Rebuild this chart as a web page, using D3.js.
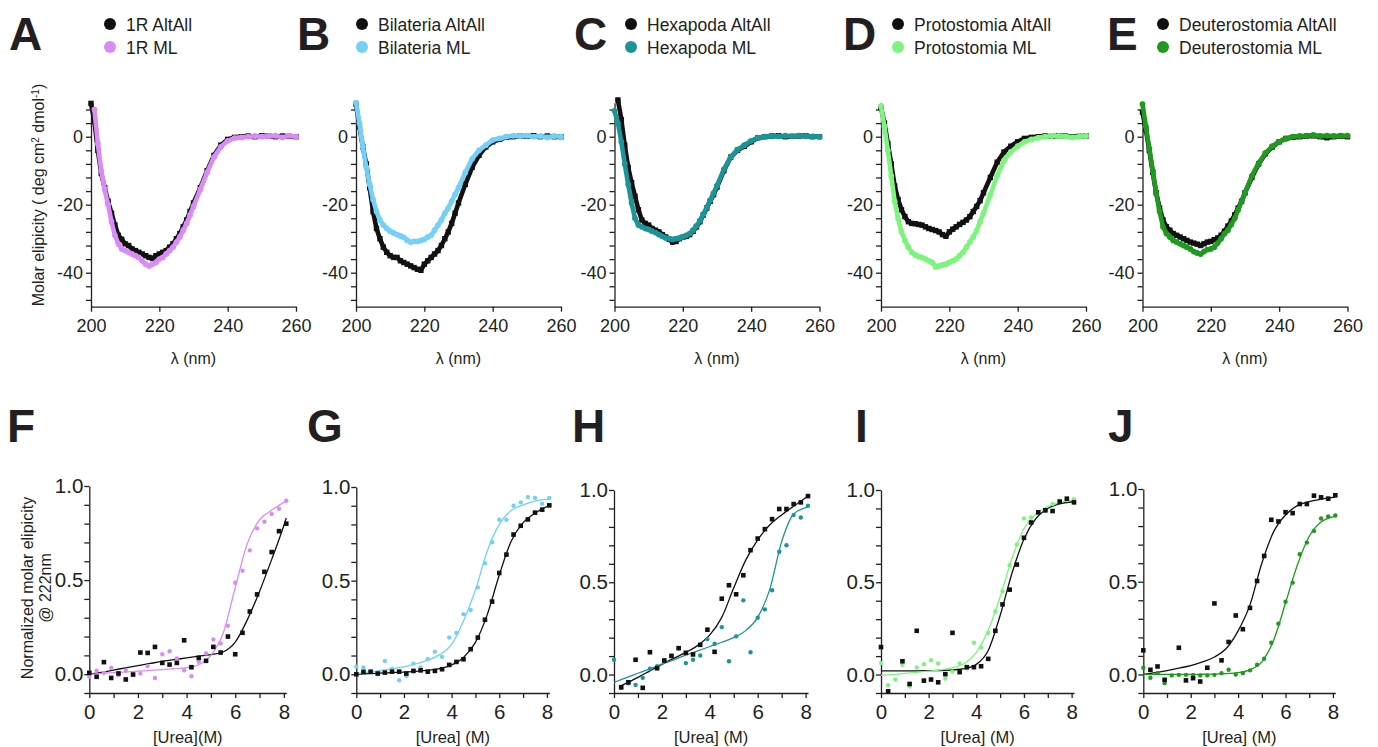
<!DOCTYPE html>
<html>
<head>
<meta charset="utf-8">
<script src="https://cdn.jsdelivr.net/npm/d3@7"></script>
<style>
  body { margin: 0; background: #fff; }
  svg { font-family: "Liberation Sans", Arial, Helvetica, sans-serif; }
</style>
</head>
<body>
<svg id="fig" width="1378" height="747"></svg>
<script>
// ---- CD spectra (top row), molar elipicity vs wavelength ----
const wavelength = [200,201,202,203,204,205,206,207,208,209,210,211,212,213,214,215,216,217,218,219,220,
  221,222,223,224,225,226,227,228,229,230,232,234,236,238,240,242,244,246,248,250,252,254,256,258,260]

const cdAltAll1R = [9.8,4.5,-4,-10.8,-15,-19,-22.5,-26,-29,-30.2,-31.5,-32,-33,-33.5,-34,-34.5,-35,-35.5,-35.8,-35,-34.5,
  -34,-33.5,-32.5,-31.5,-30,-28.5,-26.5,-24.5,-22,-19.5,-15,-10,-5.5,-2.5,-0.8,-0.2,0,0.2,0,0.3,0.2,0,0.2,0.1,0]
const cdML1R = [null,8,-2,-10,-15.5,-20,-25,-29,-31.5,-33,-33.5,-34,-34.5,-35,-35.5,-36.5,-37.5,-38,-37.5,-37,-36,
  -35.5,-34.5,-33.5,-32.5,-31,-29.5,-27.5,-25.5,-23,-20.5,-15.5,-10.5,-6,-3,-1.2,-0.4,-0.2,0,0.2,0,0.2,0.3,-0.2,0.3,0]

const cdAltAllBil = [9.6,3,-3,-8,-15,-22,-27,-30,-32.5,-34,-35,-35.5,-35.5,-36.5,-37,-37.5,-38,-38.5,-39,-39.3,-37.5,
  -36.5,-35.5,-34.5,-33.5,-32,-30,-28,-25.5,-22.5,-19.5,-14,-9,-5.5,-3,-1.5,-0.8,-0.2,0,0.2,0.1,0.3,0,0.2,0,0]
const cdMLBil = [10,4,-3,-9,-14,-18.5,-22,-24.5,-26,-27,-27.8,-28.3,-28.8,-29.2,-29.6,-30.5,-31,-30.8,-30.8,-30.5,-30.2,
  -29.5,-29,-27.5,-26,-24.5,-22.5,-21,-19,-17,-15,-10.5,-6.5,-4,-2.5,-1,-0.5,0,0.3,0.2,0.3,0,0.2,-0.2,0.2,0]

const cdAltAllHex = [null,10.8,5,-2.5,-9,-13.5,-17.5,-21.5,-24.5,-25.5,-26,-27,-27.5,-28,-28.8,-29.5,-30.2,-31,-30.8,-30,-29.6,
  -29.3,-28.8,-27.8,-26.5,-25,-23,-21,-19,-17,-14.8,-10,-6,-4,-2.8,-1.5,-0.3,0,0.2,0.3,0,0.1,0.2,0.3,0,0]
const cdMLHex = [7.6,4,-1.5,-8,-14,-19.5,-24,-26,-26.5,-27,-27.3,-27.8,-28.2,-28.8,-29.3,-29.8,-30,-30.2,-30,-29.8,-29.5,
  -29,-28.5,-27.5,-26.2,-24.7,-22.8,-20.8,-18.7,-16.6,-14.4,-9.6,-6,-3.8,-2.5,-1.2,-0.3,0,0.2,0.1,0.3,0.1,0.3,0.2,0.1,0]

const cdAltAllPro = [8.6,4,-2,-8,-14.5,-18.5,-21.5,-23.5,-25,-25.5,-25.6,-25.8,-26,-26.5,-27,-27.3,-27.6,-28,-28.8,-29.3,-28,
  -27.2,-26.5,-25.8,-25.2,-24.5,-23.5,-22,-20.5,-18.8,-16.5,-12,-7.5,-4.5,-2.8,-1.5,-0.5,-0.2,0,0.2,0.1,0.3,0.2,0,0.1,0.2]
const cdMLPro = [9,3,-4,-11.5,-19,-24,-28,-30.5,-32.5,-34,-34.8,-35.2,-35.5,-36,-36.5,-37,-38.3,-38,-37.7,-37.5,-37,
  -36.5,-36,-35,-34,-32.5,-31,-29.5,-27.6,-25,-22.5,-17,-11.5,-7,-4.5,-2.8,-1.5,-0.8,-0.3,0,0.2,0.2,0.1,-0.2,0,0.2]

const cdAltAllDeu = [7.2,2,-4,-10.5,-16.5,-21,-24.5,-26.5,-27.5,-28.5,-29,-29.5,-30,-30.5,-31,-31.3,-31.6,-32,-31.5,-31,-30.8,
  -30.3,-29.8,-29,-27.8,-26.3,-24.8,-23,-21,-19,-16.5,-12,-8,-5,-3,-1.5,-0.5,-0.2,0,0.2,0.3,0,-0.3,0,0.2,0]
const cdMLDeu = [9.6,3,-3.5,-10,-16.5,-22,-26.5,-28.5,-29.5,-30.5,-31,-31.5,-32,-32.5,-33,-33.8,-34.2,-34.5,-33.8,-33.2,-33,
  -32.5,-31.3,-30,-28.5,-27.5,-25.8,-24,-21.5,-19,-16.5,-11.5,-7.8,-4.8,-2.8,-1.5,-0.6,0,0.2,0.3,0.5,0.2,0.3,0.2,0.3,0.3]

// ---- urea denaturation (bottom row), normalized elipicity at 222 nm ----
const urea = [0,0.3,0.6,0.9,1.2,1.5,1.8,2.1,2.4,2.7,3.0,3.3,3.6,3.9,4.2,4.5,4.8,5.1,5.4,5.7,6.0,6.3,6.6,6.9,7.2,7.5,7.8,8.1]
const fitUrea = [0,0.3,0.5,1,1.5,2,2.5,3,3.5,4,4.5,5,5.5,6,6.5,7,7.5,8,8.1]

const ureaAltAll1R = [0.007,-0.014,0.064,-0.02,0.004,-0.028,-0.002,0.115,0.113,0.145,0.06,0.051,0.06,0.18,0.037,0.087,0.071,0.145,0.115,0.2,0.106,0.22,0.333,0.424,0.544,0.649,0.76,0.8]
const ureaML1R = [-0.014,0.018,0.007,0.034,-0.005,0.018,0,0.004,0.043,-0.02,0.106,0.122,0.083,0.021,-0.011,0.066,0.11,0.184,0.163,0.257,0.486,0.55,0.658,0.775,0.81,0.851,0.879,0.922]
const fitAltAll1R = [0,0.006,0.01,0.022,0.034,0.046,0.057,0.068,0.077,0.087,0.096,0.104,0.118,0.17,0.29,0.44,0.61,0.79,0.83]
const fitML1R = [0,0.002,0.004,0.008,0.012,0.016,0.02,0.024,0.029,0.035,0.05,0.1,0.216,0.46,0.695,0.82,0.872,0.913,0.92]

const ureaAltAllBil = [0,0.013,0.013,0.004,0.009,0.014,0.014,0.004,0.018,0.021,0.014,0.018,0.027,0.05,0.066,0.08,0.134,0.196,0.291,0.388,0.541,0.639,0.746,0.793,0.827,0.863,0.879,0.902]
const ureaMLBil = [0.041,0.036,0.018,0,0.071,0.03,-0.032,-0.009,0.057,0.036,0.08,0.121,0.093,0.196,0.221,0.321,0.343,0.464,0.593,0.705,0.825,0.825,0.9,0.918,0.946,0.941,0.911,0.941]
const fitAltAllBil = [0,0.002,0.003,0.006,0.009,0.012,0.016,0.021,0.03,0.05,0.09,0.17,0.32,0.53,0.71,0.81,0.86,0.895,0.9]
const fitMLBil = [0.004,0.008,0.011,0.02,0.03,0.04,0.055,0.075,0.105,0.16,0.285,0.45,0.66,0.8,0.875,0.905,0.925,0.935,0.937]

const ureaAltAllHex = [null,-0.069,-0.042,0.08,-0.072,0.121,0.034,0.076,0.101,0.143,0.118,0.109,0.161,0.243,0.123,0.411,0.484,0.435,0.538,0.674,0.737,0.788,0.842,0.897,0.897,0.924,0.933,0.967]
const ureaMLHex = [0.08,-0.072,-0.047,-0.056,-0.018,0.031,0.045,0.076,0.101,0.143,0.062,0.08,0.103,0.192,0.167,0.257,0.072,0.207,0.402,0.121,0.308,0.353,0.457,0.665,0.701,0.864,0.851,0.915]
const fitAltAllHex = [null,-0.06,-0.048,-0.015,0.02,0.055,0.088,0.12,0.158,0.215,0.31,0.47,0.62,0.73,0.81,0.865,0.912,0.958,0.967]
const fitMLHex = [-0.042,-0.027,-0.018,0.007,0.031,0.056,0.08,0.105,0.128,0.152,0.175,0.2,0.238,0.31,0.46,0.72,0.87,0.905,0.91]

const ureaAltAllPro = [0.149,-0.091,null,0.072,-0.051,0.237,-0.033,-0.027,-0.042,0.002,0.226,0.013,0.04,0.04,0.045,0.085,0.237,0.38,0.46,0.596,0.741,0.824,0.879,0.89,0.886,0.937,0.953,0.933]
const ureaMLPro = [0.062,-0.058,-0.027,0.053,-0.065,0.038,0.056,0.078,0.06,-0.022,0.016,0.06,0.033,0.172,0.147,0.226,0.342,0.451,0.592,0.705,0.846,0.851,0.879,0.886,0.924,0.942,0.946,0.95]
const fitAltAllPro = [0.02,0.02,0.02,0.02,0.02,0.021,0.022,0.025,0.032,0.055,0.13,0.32,0.55,0.735,0.845,0.9,0.925,0.935,0.936]
const fitMLPro = [-0.005,-0.002,0,0.006,0.012,0.018,0.025,0.037,0.06,0.12,0.24,0.42,0.63,0.79,0.87,0.91,0.932,0.944,0.945]

const ureaAltAllDeu = [0.13,0.025,0.043,-0.029,null,0.144,-0.032,-0.02,-0.038,0.036,0.383,0.076,0.175,0.318,0.244,0.359,0.504,0.639,0.834,0.825,0.875,0.87,0.919,0.919,0.964,0.955,0.948,0.966]
const ureaMLDeu = [0.036,-0.018,0.007,-0.047,-0.005,-0.002,-0.002,-0.002,-0.005,-0.005,-0.002,0.007,0.025,0,0.007,0.022,0.052,0.085,0.171,0.274,0.392,0.495,0.648,0.711,0.774,0.841,0.852,0.857]
const fitAltAllDeu = [0,0.006,0.01,0.021,0.034,0.048,0.068,0.094,0.14,0.235,0.375,0.6,0.77,0.86,0.91,0.932,0.945,0.955,0.957]
const fitMLDeu = [0,0,0,0,0,0,0.001,0.002,0.005,0.01,0.025,0.068,0.185,0.385,0.59,0.745,0.822,0.85,0.853]

const groupNames = ['1R', 'Bilateria', 'Hexapoda', 'Protostomia', 'Deuterostomia']
const groupColors = ['#d98cf5', '#73d0f7', '#1b9598', '#7df47d', '#1f9a1f']

// ---- layout ----
const ink = '#231f20'
const topX0 = [91, 356, 614.5, 881, 1142.5]
const topW = 205
const topTopY = 102.7, topBotY = 306.7
const botX0 = [89.3, 356.3, 614, 881, 1143.3]
const botW = [197, 193, 194, 193, 192]
const botTopY = [486, 487, 490, 490, 489]
const botBotY = 693
const topLetters = ['A', 'B', 'C', 'D', 'E'], topLetterX = [9, 297, 574, 843, 1107]
const botLetters = ['F', 'G', 'H', 'I', 'J'], botLetterX = [7, 307, 572, 855, 1108]
const legendDotX = [110, 362, 631, 898, 1163]

const cdPanels = [
  { alt: cdAltAll1R, ml: cdML1R }, { alt: cdAltAllBil, ml: cdMLBil }, { alt: cdAltAllHex, ml: cdMLHex },
  { alt: cdAltAllPro, ml: cdMLPro }, { alt: cdAltAllDeu, ml: cdMLDeu }
]
const ureaPanels = [
  { alt: ureaAltAll1R, ml: ureaML1R, fitAlt: fitAltAll1R, fitMl: fitML1R, xTitle: '[Urea](M)' },
  { alt: ureaAltAllBil, ml: ureaMLBil, fitAlt: fitAltAllBil, fitMl: fitMLBil, xTitle: '[Urea] (M)' },
  { alt: ureaAltAllHex, ml: ureaMLHex, fitAlt: fitAltAllHex, fitMl: fitMLHex, xTitle: '[Urea] (M)' },
  { alt: ureaAltAllPro, ml: ureaMLPro, fitAlt: fitAltAllPro, fitMl: fitMLPro, xTitle: '[Urea] (M)' },
  { alt: ureaAltAllDeu, ml: ureaMLDeu, fitAlt: fitAltAllDeu, fitMl: fitMLDeu, xTitle: '[Urea] (M)' }
]

const svg = d3.select('#fig')

const styleAxis = (g, fontSize) => {
  g.select('.domain').attr('stroke', ink).attr('stroke-width', 1.3)
  g.selectAll('.tick line').attr('stroke', ink).attr('stroke-width', 1.3)
  g.selectAll('.tick text').attr('fill', ink).style('font-size', fontSize + 'px').attr('font-family', null)
}

const letter = (x, y, t) => svg.append('text')
  .attr('x', x).attr('y', y).text(t)
  .style('font-size', '46px').style('font-weight', 'bold').attr('fill', ink)

// ---- top row ----
cdPanels.forEach((p, i) => {
  const x = d3.scaleLinear().domain([200, 260]).range([topX0[i], topX0[i] + topW])
  const y = d3.scaleLinear().domain([-50, 10]).range([topBotY, topTopY])
  const g = svg.append('g')

  letter(topLetterX[i], 50, topLetters[i])

  // legend
  const lg = svg.append('g')
  ;[[`${groupNames[i]} AltAll`, '#111', 24, 30.5], [`${groupNames[i]} ML`, groupColors[i], 47, 53.5]].forEach(r => {
    lg.append('circle').attr('cx', legendDotX[i]).attr('cy', r[2]).attr('r', 6).attr('fill', r[1])
    lg.append('text').attr('x', legendDotX[i] + 16).attr('y', r[3]).text(r[0])
      .style('font-size', '17.5px').attr('fill', ink)
  })

  g.append('g').attr('transform', `translate(0,${topBotY})`)
    .call(d3.axisBottom(x).tickValues([200, 220, 240, 260]).tickSize(5).tickSizeOuter(0).tickPadding(8))
    .call(a => styleAxis(a, 18))
  g.append('g').attr('transform', `translate(${topX0[i]},0)`)
    .call(d3.axisLeft(y).tickValues(d3.range(-48, 9, 4)).tickFormat(v => v % 20 === 0 ? String(v) : '')
      .tickSize(5).tickSizeOuter(0).tickPadding(3))
    .call(a => styleAxis(a, 18))

  const line = d3.line().defined(d => d[1] != null).x(d => x(d[0])).y(d => y(d[1]))
  const series = [{ vals: p.alt, color: '#111', square: true }, { vals: p.ml, color: groupColors[i], square: false }]
  series.forEach(s => {
    const pts = wavelength.map((w, k) => [w, s.vals[k]])
    g.append('path').datum(pts).attr('d', line)
      .attr('fill', 'none').attr('stroke', s.color).attr('stroke-width', 4.6)
      .attr('stroke-linejoin', 'round').attr('stroke-linecap', 'round')
    const ok = pts.filter(d => d[1] != null)
    if (s.square) {
      g.selectAll(null).data(ok).enter().append('rect')
        .attr('x', d => x(d[0]) - 2.7).attr('y', d => y(d[1]) - 2.7)
        .attr('width', 5.4).attr('height', 5.4).attr('fill', s.color)
    } else {
      g.selectAll(null).data(ok).enter().append('circle')
        .attr('cx', d => x(d[0])).attr('cy', d => y(d[1])).attr('r', 2.9).attr('fill', s.color)
    }
  })

  g.append('text').attr('x', topX0[i] + topW / 2).attr('y', 364).attr('text-anchor', 'middle')
    .text('λ (nm)').style('font-size', '16px').attr('fill', ink)
})

// top y title
const yt = svg.append('text').attr('transform', 'translate(43.5,195) rotate(-90)')
  .attr('text-anchor', 'middle').style('font-size', '16px').attr('fill', ink)
yt.append('tspan').text('Molar elipicity ( deg cm')
yt.append('tspan').text('2').attr('baseline-shift', 'super').style('font-size', '10px')
yt.append('tspan').text(' dmol')
yt.append('tspan').text('-1').attr('baseline-shift', 'super').style('font-size', '10px')
yt.append('tspan').text(')')

// ---- bottom row ----
ureaPanels.forEach((p, i) => {
  const x = d3.scaleLinear().domain([0, 8.1]).range([botX0[i], botX0[i] + botW[i]])
  const y = d3.scaleLinear().domain([-0.1, 1.0]).range([botBotY, botTopY[i]])
  const g = svg.append('g')

  letter(botLetterX[i], 442, botLetters[i])

  g.append('g').attr('transform', `translate(0,${botBotY})`)
    .call(d3.axisBottom(x).tickValues(d3.range(0, 9)).tickFormat(v => v % 2 === 0 ? String(v) : '')
      .tickSize(5).tickSizeOuter(0).tickPadding(6))
    .call(a => styleAxis(a, 20.5))
  g.append('g').attr('transform', `translate(${botX0[i]},0)`)
    .call(d3.axisLeft(y).tickValues(d3.range(-1, 11).map(k => k / 10))
      .tickFormat(v => Math.round(v * 10) % 5 === 0 ? d3.format('.1f')(v) : '')
      .tickSize(5).tickSizeOuter(0).tickPadding(1))
    .call(a => styleAxis(a, 20.5))

  const fitLine = d3.line().defined(d => d[1] != null).curve(d3.curveMonotoneX)
    .x(d => x(d[0])).y(d => y(d[1]))
  const fits = [{ vals: p.fitAlt, color: '#111' }, { vals: p.fitMl, color: groupColors[i] }]
  fits.forEach(f => {
    g.append('path').datum(fitUrea.map((u, k) => [u, f.vals[k]])).attr('d', fitLine)
      .attr('fill', 'none').attr('stroke', f.color).attr('stroke-width', 1.3)
  })

  const altPts = urea.map((u, k) => [u, p.alt[k]]).filter(d => d[1] != null)
  const mlPts = urea.map((u, k) => [u, p.ml[k]]).filter(d => d[1] != null)
  g.selectAll(null).data(mlPts).enter().append('circle')
    .attr('cx', d => x(d[0])).attr('cy', d => y(d[1])).attr('r', 2.2).attr('fill', groupColors[i])
  g.selectAll(null).data(altPts).enter().append('rect')
    .attr('x', d => x(d[0]) - 2.3).attr('y', d => y(d[1]) - 2.3)
    .attr('width', 4.6).attr('height', 4.6).attr('fill', '#111')

  g.append('text').attr('x', botX0[i] + botW[i] / 2).attr('y', 743).attr('text-anchor', 'middle')
    .text(p.xTitle).style('font-size', '16.5px').attr('fill', ink)
})

// bottom y title
const by = svg.append('text').attr('transform', 'translate(0,588) rotate(-90)')
  .attr('text-anchor', 'middle').style('font-size', '16px').attr('fill', ink)
by.append('tspan').attr('x', 0).attr('y', 32.5).text('Normalized molar elipicity')
by.append('tspan').attr('x', 0).attr('y', 50.5).text('@ 222nm')
</script>
</body>
</html>
